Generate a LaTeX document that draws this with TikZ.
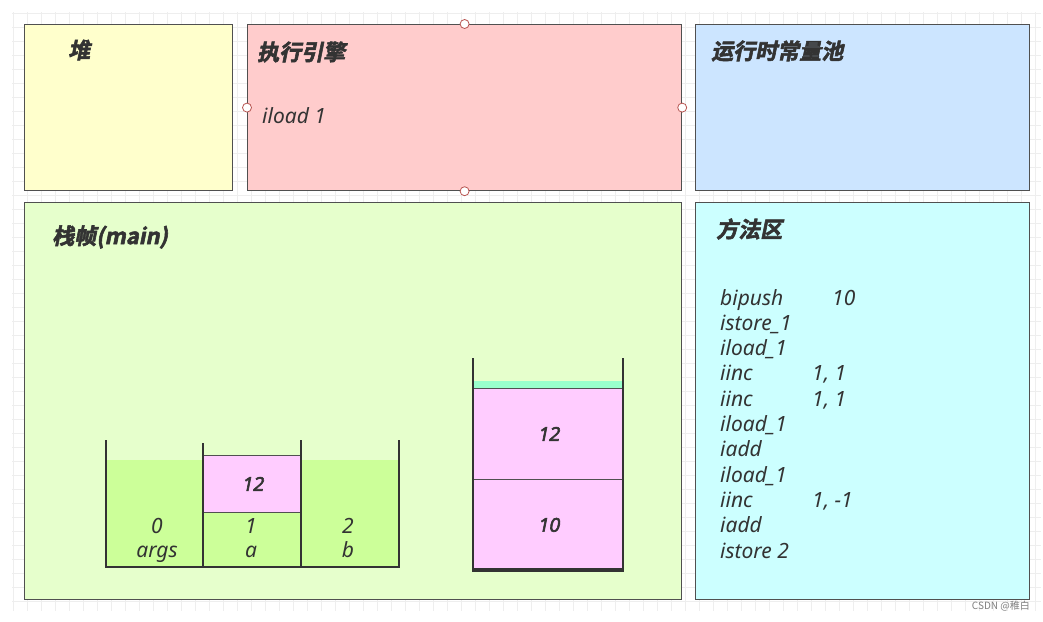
\documentclass[tikz,border=0pt]{standalone}
\usepackage{fontspec}
\setmainfont{Noto Sans}
\newfontfamily\cjkfont{Noto Sans CJK SC}
\newfontfamily\cjktitle{Noto Sans CJK SC Bold}[FakeSlant=0.2, FakeBold=2.5]
\newfontfamily\valuefont{Noto Sans}[FakeSlant=0.2, FakeBold=3]
\definecolor{HeapFill}{HTML}{FFFFCC}
\definecolor{EngineFill}{HTML}{FFCCCC}
\definecolor{PoolFill}{HTML}{CCE5FF}
\definecolor{FrameFill}{HTML}{E6FFCC}
\definecolor{MethodFill}{HTML}{CCFFFF}
\definecolor{SlotGreen}{HTML}{CCFF99}
\definecolor{ValuePink}{HTML}{FFCCFF}
\definecolor{TopMint}{HTML}{99FFCC}
\definecolor{LineGray}{HTML}{505050}
\definecolor{WallGray}{HTML}{333333}
\definecolor{HandleRed}{HTML}{B85450}
\definecolor{GridGray}{HTML}{EEEEEE}
\definecolor{TextGray}{HTML}{333333}
\usetikzlibrary{positioning}
\tikzset{
  panel/.style={draw=LineGray, line width=1.2pt, inner sep=0pt, anchor=north west},
  paneltitle/.style={font=\cjktitle\fontsize{22}{26}\selectfont, text=TextGray, inner sep=0pt, anchor=west},
  codetext/.style={font=\itshape\fontsize{21}{25}\selectfont, text=TextGray, inner sep=0pt, anchor=base west},
  valuetext/.style={font=\valuefont\fontsize{19}{21}\selectfont, text=TextGray, inner sep=0pt},
  handle/.style={circle, draw=HandleRed, fill=white, line width=0.8pt, minimum size=9pt, inner sep=0pt},
  slotfill/.style={fill=SlotGreen, inner sep=0pt, anchor=north west},
  valuebox/.style={fill=ValuePink, draw=LineGray, line width=0.8pt, inner sep=0pt, anchor=north west},
  wall/.style={draw=WallGray, line width=2.2pt},
  gridline/.style={draw=GridGray, line width=0.8pt}
}

\begin{document}
\begin{tikzpicture}[x=1pt, y=-1pt]
  \useasboundingbox[fill=white] (0,0) rectangle (1043,621);
  % background grid
  \foreach \gx in {13,27,...,1041}
    \draw[gridline] (\gx,12) -- (\gx,611);
  \foreach \gy in {13,27,...,611}
    \draw[gridline] (12,\gy) -- (1041,\gy);

  % runtime areas
  \node[panel, fill=HeapFill, minimum width=208pt, minimum height=166pt] (heap) at (24,24) {};
  \node[panel, fill=EngineFill, minimum width=434pt, minimum height=166pt] (engine) at (247,24) {};
  \node[panel, fill=PoolFill, minimum width=334pt, minimum height=166pt] (pool) at (695,24) {};
  \node[panel, fill=FrameFill, minimum width=657pt, minimum height=397pt] (frame) at (24,202) {};
  \node[panel, fill=MethodFill, minimum width=334pt, minimum height=397pt] (method) at (695,202) {};

  \node[handle] (engineN) at (engine.north) {};
  \node[handle] (engineS) at (engine.south) {};
  \node[handle] (engineW) at (engine.west) {};
  \node[handle] (engineE) at (engine.east) {};

  \node[paneltitle] (heaptitle) at (68,50) {堆};
  \node[paneltitle] (enginetitle) at (257,52) {执行引擎};
  \node[paneltitle] (pooltitle) at (711,51) {运行时常量池};
  \node[paneltitle] (frametitle) at (52,237) {栈帧(main)};
  \node[paneltitle] (methodtitle) at (716,229) {方法区};

  \node[codetext] (current) at (262,123) {iload 1};

  % local variable table
  \node[slotfill, minimum width=97pt, minimum height=107pt] (slot0) at (106,460) {};
  \node[slotfill, minimum width=98pt, minimum height=55pt] (slot1) at (203,512) {};
  \node[slotfill, minimum width=98pt, minimum height=107pt] (slot2) at (301,460) {};
  \node[valuebox, minimum width=98pt, minimum height=57pt] (slotval) at (203,455) {};
  \node[valuetext] at (slotval.center) {12};
  \draw[wall] (106,440) -- (106,567) -- (399,567) -- (399,440);
  \draw[wall] (203,443) -- (203,567);
  \draw[wall] (301,440) -- (301,567);
  \node[codetext, anchor=base] (idx0) at (157,533) {0};
  \node[codetext, anchor=base] (name0) at (157,557) {args};
  \node[codetext, anchor=base] (idx1) at (251,533) {1};
  \node[codetext, anchor=base] (name1) at (251,557) {a};
  \node[codetext, anchor=base] (idx2) at (348,533) {2};
  \node[codetext, anchor=base] (name2) at (348,557) {b};

  % operand stack
  \node[slotfill, fill=TopMint, minimum width=150pt, minimum height=7pt] (stacktop) at (473,381) {};
  \node[valuebox, minimum width=150pt, minimum height=91pt] (stack1) at (473,388) {};
  \node[valuebox, minimum width=150pt, minimum height=91pt] (stack0) at (473,479) {};
  \node[valuetext] at (stack1.center) {12};
  \node[valuetext] at (stack0.center) {10};
  \draw[wall] (473,358) -- (473,570);
  \draw[wall] (623,358) -- (623,570);
  \draw[wall, line width=3.5pt] (472,570) -- (624,570);

  % bytecode
  \foreach \op [count=\i from 0] in {bipush, istore\_1, iload\_1, iinc, iinc, iload\_1, iadd, iload\_1, iinc, iadd, istore 2}
    \node[codetext] (op\i) at (720,{305+25.3*\i}) {\op};
  \node[codetext] (arg0) at (832,305) {10};
  \node[codetext] (arg3) at (812,{305+25.3*3}) {1, 1};
  \node[codetext] (arg4) at (812,{305+25.3*4}) {1, 1};
  \node[codetext] (arg8) at (812,{305+25.3*8}) {1, -1};

  \node[font=\cjkfont\fontsize{10}{12}\selectfont, text=gray, inner sep=0pt, anchor=east] (mark) at (1030,606) {CSDN @稚白};
\end{tikzpicture}
\end{document}
